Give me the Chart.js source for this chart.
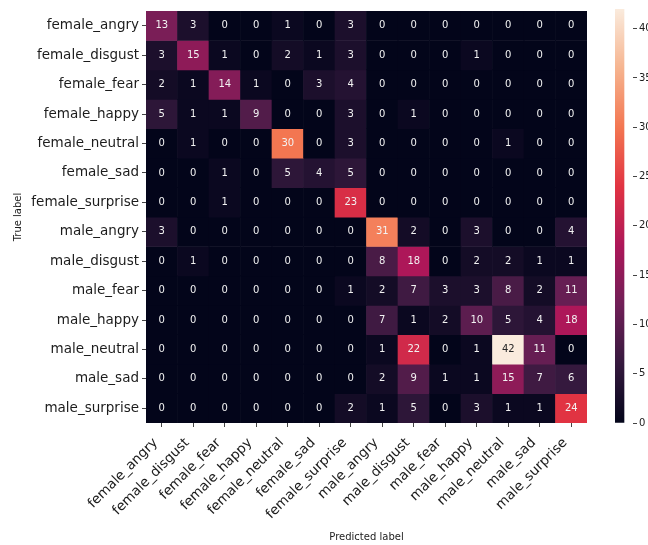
<!DOCTYPE html>
<html>
<head>
<meta charset="utf-8">
<script src="https://cdn.jsdelivr.net/npm/chart.js@4.4.1/dist/chart.umd.min.js"></script>
<style>
  html, body { margin: 0; padding: 0; background: #ffffff; }
  #wrap { position: relative; width: 648px; height: 545px; overflow: hidden; }
  #cm { position: absolute; left: 0; top: 0; }
  #cb { position: absolute; left: 605px; top: 0; }
</style>
</head>
<body>
<div id="wrap">
  <canvas id="cm" width="648" height="545"></canvas>
  <canvas id="cb" width="43" height="545"></canvas>
</div>
<script>
// Class names (rows = true label, columns = predicted label)
const trueLabels = [
  'female_angry', 'female_disgust', 'female_fear', 'female_happy', 'female_neutral',
  'female_sad', 'female_surprise', 'male_angry', 'male_disgust', 'male_fear',
  'male_happy', 'male_neutral', 'male_sad', 'male_surprise'
];
const predictedLabels = trueLabels.slice();

// Confusion-matrix counts, one row per true label
const rowFemaleAngry    = [13, 3, 0, 0, 1, 0, 3, 0, 0, 0, 0, 0, 0, 0];
const rowFemaleDisgust  = [3, 15, 1, 0, 2, 1, 3, 0, 0, 0, 1, 0, 0, 0];
const rowFemaleFear     = [2, 1, 14, 1, 0, 3, 4, 0, 0, 0, 0, 0, 0, 0];
const rowFemaleHappy    = [5, 1, 1, 9, 0, 0, 3, 0, 1, 0, 0, 0, 0, 0];
const rowFemaleNeutral  = [0, 1, 0, 0, 30, 0, 3, 0, 0, 0, 0, 1, 0, 0];
const rowFemaleSad      = [0, 0, 1, 0, 5, 4, 5, 0, 0, 0, 0, 0, 0, 0];
const rowFemaleSurprise = [0, 0, 1, 0, 0, 0, 23, 0, 0, 0, 0, 0, 0, 0];
const rowMaleAngry      = [3, 0, 0, 0, 0, 0, 0, 31, 2, 0, 3, 0, 0, 4];
const rowMaleDisgust    = [0, 1, 0, 0, 0, 0, 0, 8, 18, 0, 2, 2, 1, 1];
const rowMaleFear       = [0, 0, 0, 0, 0, 0, 1, 2, 7, 3, 3, 8, 2, 11];
const rowMaleHappy      = [0, 0, 0, 0, 0, 0, 0, 7, 1, 2, 10, 5, 4, 18];
const rowMaleNeutral    = [0, 0, 0, 0, 0, 0, 0, 1, 22, 0, 1, 42, 11, 0];
const rowMaleSad        = [0, 0, 0, 0, 0, 0, 0, 2, 9, 1, 1, 15, 7, 6];
const rowMaleSurprise   = [0, 0, 0, 0, 0, 0, 2, 1, 5, 0, 3, 1, 1, 24];

const matrix = [
  rowFemaleAngry, rowFemaleDisgust, rowFemaleFear, rowFemaleHappy, rowFemaleNeutral,
  rowFemaleSad, rowFemaleSurprise, rowMaleAngry, rowMaleDisgust, rowMaleFear,
  rowMaleHappy, rowMaleNeutral, rowMaleSad, rowMaleSurprise
];

// Colour bar tick labels
const colorbarTicks = [0, 5, 10, 15, 20, 25, 30, 35, 40];

const vmin = 0;
const vmax = Math.max(...matrix.flat());

// "rocket" colormap anchor colours
const rocketStops = [
  [0.000, [3, 5, 26]],
  [0.143, [53, 25, 62]],
  [0.286, [112, 31, 87]],
  [0.429, [173, 23, 89]],
  [0.571, [225, 51, 66]],
  [0.714, [243, 118, 81]],
  [0.857, [246, 180, 143]],
  [1.000, [250, 235, 221]]
];

function rocket(t) {
  t = Math.min(1, Math.max(0, t));
  for (let i = 1; i < rocketStops.length; i++) {
    const [p1, c1] = rocketStops[i];
    const [p0, c0] = rocketStops[i - 1];
    if (t <= p1) {
      const f = (t - p0) / (p1 - p0);
      return c0.map((v, k) => Math.round(v + (c1[k] - v) * f));
    }
  }
  return rocketStops[rocketStops.length - 1][1];
}
const rgbStr = c => `rgb(${c[0]},${c[1]},${c[2]})`;
function cellColor(v) { return rgbStr(rocket((v - vmin) / (vmax - vmin))); }
function textColor(v) {
  const lin = rocket((v - vmin) / (vmax - vmin)).map(x => {
    x /= 255;
    return x <= 0.03928 ? x / 12.92 : Math.pow((x + 0.055) / 1.055, 2.4);
  });
  const lum = 0.2126 * lin[0] + 0.7152 * lin[1] + 0.0722 * lin[2];
  return lum > 0.408 ? '#262626' : '#f2f2f2';
}

const FONT = '"DejaVu Sans", sans-serif';
const INK = '#1c1c1c';

// Each true-label row is a dataset of floating bars spanning [r, r+1] on a reversed y axis
const datasets = matrix.map((row, r) => ({
  label: trueLabels[r],
  data: row.map(() => [r, r + 1]),
  backgroundColor: row.map(cellColor),
  borderWidth: 0,
  barPercentage: 1,
  categoryPercentage: 1,
  grouped: false
}));

const annotate = {
  id: 'annotate',
  afterDatasetsDraw(chart) {
    const ctx = chart.ctx;
    ctx.save();
    ctx.font = '10px ' + FONT;
    ctx.textAlign = 'center';
    ctx.textBaseline = 'middle';
    matrix.forEach((row, r) => {
      const meta = chart.getDatasetMeta(r);
      row.forEach((v, c) => {
        const el = meta.data[c];
        const p = el.getProps(['x', 'y', 'base'], true);
        ctx.fillStyle = textColor(v);
        ctx.fillText(String(v), p.x, (p.y + p.base) / 2);
      });
    });
    ctx.restore();
  }
};

new Chart(document.getElementById('cm'), {
  type: 'bar',
  data: { labels: predictedLabels, datasets },
  plugins: [annotate],
  options: {
    responsive: false,
    animation: false,
    events: [],
    layout: { padding: { top: 9, right: 61, left: 0, bottom: 0 } },
    plugins: { legend: { display: false }, tooltip: { enabled: false } },
    scales: {
      x: {
        type: 'category',
        offset: true,
        afterFit: s => { s.height = 122; },
        grid: { offset: false, drawOnChartArea: false, drawTicks: true, tickLength: 4, color: '#444' },
        border: { display: false },
        ticks: {
          autoSkip: false, maxRotation: 45, minRotation: 45, padding: 8, labelOffset: -6,
          color: INK, font: { family: FONT, size: 13.5 }
        },
        title: {
          display: true, text: 'Predicted label', color: INK,
          font: { family: FONT, size: 10 }, padding: { top: 0, bottom: 2 }
        }
      },
      y: {
        type: 'linear',
        reverse: true,
        min: 0,
        max: trueLabels.length,
        afterFit: s => { s.width = 146; },
        afterBuildTicks: s => { s.ticks = trueLabels.map((_, i) => ({ value: i + 0.5 })); },
        grid: { drawOnChartArea: false, drawTicks: true, tickLength: 4, color: '#444' },
        border: { display: false },
        ticks: {
          autoSkip: false, padding: 3, color: INK,
          font: { family: FONT, size: 13.5 },
          callback: v => trueLabels[Math.floor(v)]
        },
        title: {
          display: true, text: 'True label', color: INK,
          font: { family: FONT, size: 10 }, padding: { top: 12, bottom: 0 }
        }
      }
    }
  }
});

// Colour bar: one floating bar spanning the value range, filled with the colormap
new Chart(document.getElementById('cb'), {
  type: 'bar',
  data: {
    labels: [''],
    datasets: [{
      data: [[vmin, vmax]],
      borderWidth: 0,
      barPercentage: 1,
      categoryPercentage: 1,
      backgroundColor: ctx => {
        const ca = ctx.chart.chartArea;
        if (!ca) return 'transparent';
        const g = ctx.chart.ctx.createLinearGradient(0, ca.bottom, 0, ca.top);
        rocketStops.forEach(([p, c]) => g.addColorStop(p, rgbStr(c)));
        return g;
      }
    }]
  },
  options: {
    responsive: false,
    animation: false,
    events: [],
    layout: { padding: { top: 9, right: 0, left: 10, bottom: 122 } },
    plugins: { legend: { display: false }, tooltip: { enabled: false } },
    scales: {
      x: { display: false, offset: false },
      y: {
        position: 'right',
        min: vmin,
        max: vmax,
        afterFit: s => { s.width = 15; },
        afterBuildTicks: s => { s.ticks = colorbarTicks.map(v => ({ value: v })); },
        grid: { drawOnChartArea: false, drawTicks: true, tickLength: 4, color: '#444' },
        border: { display: false },
        ticks: { padding: 2, color: INK, font: { family: FONT, size: 10 } }
      }
    }
  }
});
</script>
</body>
</html>
